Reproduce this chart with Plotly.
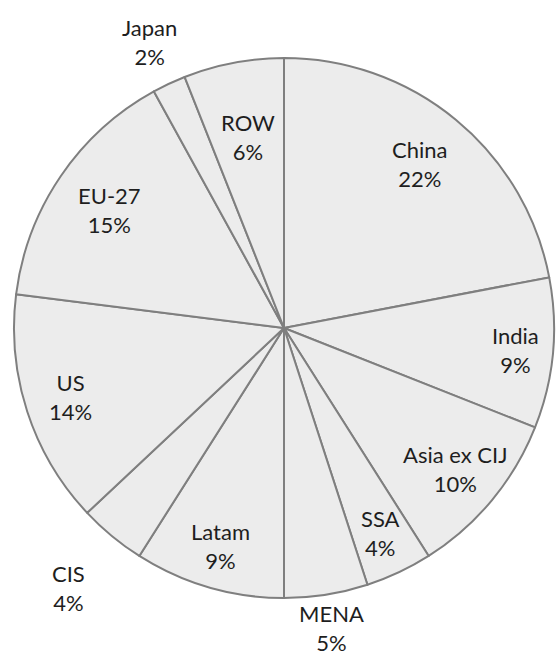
import math
import plotly.graph_objects as go

# ---- data ----
regions = ["China", "India", "Asia ex CIJ", "SSA", "MENA", "Latam",
           "CIS", "US", "EU-27", "Japan", "ROW"]
shares = [22, 9, 10, 4, 5, 9, 4, 14, 15, 2, 6]

# ---- styling / layout (not data) ----
label_radius = [0.79, 0.86, 0.82, 0.84, 1.125, 0.84, 1.25, 0.83, 0.78, 1.17, 0.72]
W, H = 556, 657
CX, CY, R = 284, 328, 270
FONT = "Lato"

fig = go.Figure(go.Pie(
    labels=regions,
    values=shares,
    sort=False,
    direction="clockwise",
    rotation=0,
    textinfo="none",
    hoverinfo="label+percent",
    showlegend=False,
    marker=dict(colors=["#ececec"] * len(regions),
                line=dict(color="#7f7f7f", width=2)),
    domain=dict(x=[(CX - R) / W, (CX + R) / W],
                y=[(H - CY - R) / H, (H - CY + R) / H]),
))

total = sum(shares)
cum = 0
annotations = []
for name, v, rf in zip(regions, shares, label_radius):
    mid = (cum + v / 2) / total * 2 * math.pi
    cum += v
    px = CX + R * rf * math.sin(mid)
    py = CY - R * rf * math.cos(mid)
    pct = round(v / total * 100)
    annotations.append(dict(
        x=px / W, y=1 - py / H, xref="paper", yref="paper",
        text=f"{name}<br>{pct}%", showarrow=False,
        xanchor="center", yanchor="middle", align="center",
        font=dict(family=FONT, size=22, color="#1e1e1e"),
    ))

fig.update_layout(
    width=W, height=H,
    margin=dict(l=0, r=0, t=0, b=0),
    paper_bgcolor="white",
    plot_bgcolor="white",
    annotations=annotations,
)

fig.write_html("out.html")
